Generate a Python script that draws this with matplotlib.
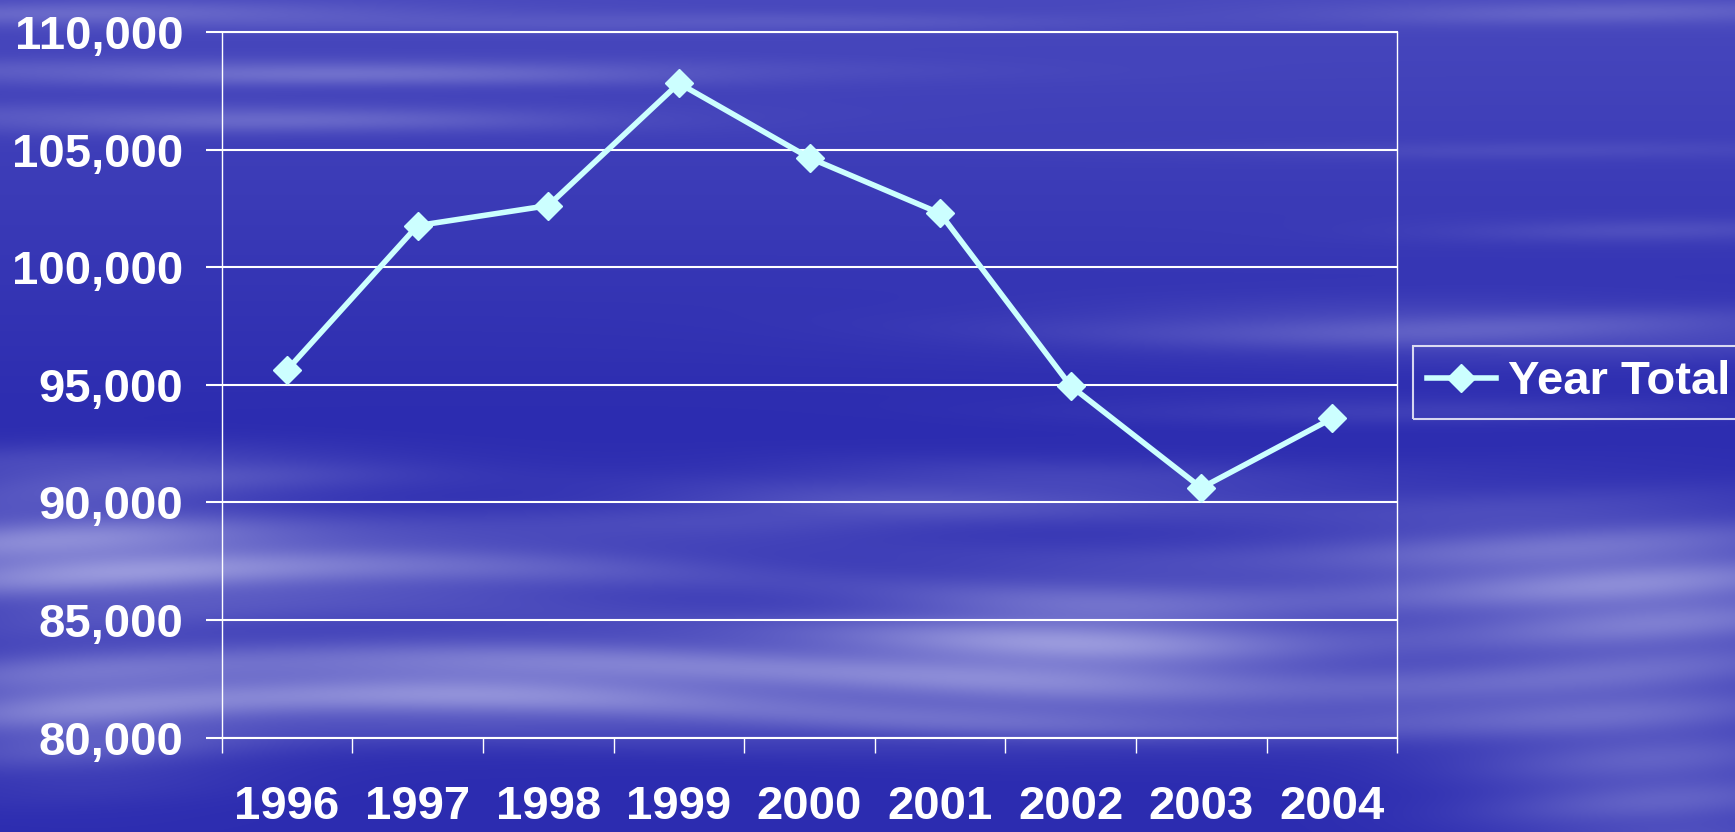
import numpy as np
import matplotlib
matplotlib.use("Agg")
import matplotlib.pyplot as plt
from matplotlib.ticker import FuncFormatter, FixedLocator

# ---------------- data ----------------
years = ["1996", "1997", "1998", "1999", "2000", "2001", "2002", "2003", "2004"]
year_total = [95630, 101770, 102620, 107820, 104650, 102290, 94950, 90620, 93570]
y_ticks = [80000, 85000, 90000, 95000, 100000, 105000, 110000]
series_label = "Year Total"

# ---------------- figure ----------------
W, H = 1735, 832
DPI = 100
fig = plt.figure(figsize=(W / DPI, H / DPI), dpi=DPI)
plt.rcParams["font.family"] = ["Liberation Sans", "DejaVu Sans"]

# ---- decorative sky background (deterministic) ----
yy, xx = np.mgrid[0:H, 0:W].astype(float)
top = np.array([0x48, 0x48, 0xBD]) / 255.0
mid = np.array([0x2C, 0x2C, 0xB0]) / 255.0
light = np.array([0xB0, 0xB0, 0xE6]) / 255.0
t = np.clip(yy / 420.0, 0, 1)[..., None]
base = top * (1 - t) + mid * t

blobs = [  # cx, cy, sx, sy, amp
    (300, 72, 320, 9, 0.45), (220, 118, 260, 10, 0.40), (120, 14, 220, 9, 0.35),
    (700, 22, 260, 7, 0.22), (1600, 12, 220, 9, 0.28), (1550, 150, 260, 7, 0.12),
    (1480, 330, 280, 18, 0.38), (1650, 230, 160, 9, 0.18), (1400, 410, 220, 10, 0.15),
    (1000, 490, 230, 20, 0.28), (800, 515, 170, 12, 0.20),
    (280, 565, 340, 30, 0.55), (60, 545, 150, 45, 0.45),
    (650, 672, 340, 34, 0.52), (1080, 640, 170, 45, 0.65), (400, 692, 230, 28, 0.42),
    (60, 712, 130, 45, 0.50), (1560, 565, 230, 45, 0.48), (1660, 625, 150, 55, 0.42),
    (1480, 700, 190, 30, 0.32), (1660, 790, 130, 55, 0.42), (1000, 722, 260, 18, 0.28),
    (150, 470, 190, 16, 0.28),
]
cloud = np.zeros((H, W))
for cx, cy, sx, sy, amp in blobs:
    cloud += amp * np.exp(-0.5 * ((xx - cx) / sx) ** 2 - 0.5 * ((yy - cy) / sy) ** 2)
streak = 0.88 + 0.12 * np.sin(yy / 7.0 + 2.5 * np.sin(xx / 260.0))
cloud = np.clip(cloud * streak, 0, 0.85)[..., None]
img = base * (1 - cloud) + light * cloud

bg = fig.add_axes([0, 0, 1, 1], zorder=0)
bg.imshow(img, aspect="auto", interpolation="bilinear")
bg.axis("off")

# ---- main axes ----
left_px, right_px, top_px, bot_px = 221.7, 1397.3, 32.0, 737.7
ax = fig.add_axes([left_px / W, 1 - bot_px / H, (right_px - left_px) / W, (bot_px - top_px) / H], zorder=1)
ax.patch.set_alpha(0)

x = np.arange(len(years)) + 0.5
line_color = "#CCFFFF"
ax.plot(x, year_total, color=line_color, lw=4, marker="D", markersize=14,
        markerfacecolor=line_color, markeredgecolor=line_color, mew=1, label=series_label,
        zorder=3, clip_on=False)

ax.set_xlim(0, len(years))
ax.set_ylim(y_ticks[0], y_ticks[-1])

# y axis
ax.set_yticks(y_ticks)
ax.yaxis.set_major_formatter(FuncFormatter(lambda v, p: f"{int(v):,}"))
ax.tick_params(axis="y", which="major", direction="out", length=11.5, width=1.5,
               color="white", pad=16, labelsize=34, labelcolor="white")
for lab in ax.get_yticklabels():
    lab.set_fontweight("bold")
ax.yaxis.grid(True, color="white", lw=1.5)
ax.set_axisbelow(True)

# x axis: ticks at category boundaries, labels at centers
ax.xaxis.set_major_locator(FixedLocator(np.arange(len(years) + 1)))
ax.xaxis.set_minor_locator(FixedLocator(x))
ax.set_xticklabels([], minor=False)
ax.set_xticklabels(years, minor=True)
ax.tick_params(axis="x", which="major", direction="out", length=11, width=1,
               color="white")
ax.tick_params(axis="x", which="minor", length=0, pad=34, labelsize=34,
               labelcolor="white")
for lab in ax.get_xticklabels(minor=True):
    lab.set_fontweight("bold")

for s in ["left", "right"]:
    ax.spines[s].set_color("white")
    ax.spines[s].set_linewidth(1)
for s in ["top", "bottom"]:
    ax.spines[s].set_color("white")
    ax.spines[s].set_linewidth(1.5)

# legend
leg = fig.legend(loc="center left", bbox_to_anchor=(1413 / W, 1 - 382.5 / H),
                 bbox_transform=fig.transFigure, borderaxespad=0, frameon=True,
                 fancybox=False, handlelength=1.45, handletextpad=0.27,
                 borderpad=0.3, prop={"weight": "bold", "size": 34})
leg.get_frame().set_facecolor("none")
leg.get_frame().set_edgecolor("white")
leg.get_frame().set_linewidth(1.5)
for txt in leg.get_texts():
    txt.set_color("white")
leg.set_zorder(5)

fig.savefig("out.png", dpi=DPI)
